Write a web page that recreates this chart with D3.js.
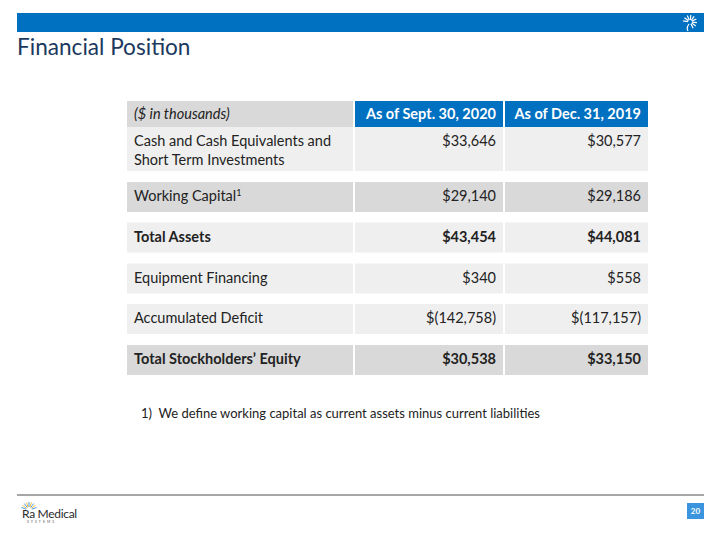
<!DOCTYPE html>
<html>
<head>
<meta charset="utf-8">
<script src="https://cdn.jsdelivr.net/npm/d3@7"></script>
<style>
  body { margin: 0; background: #fff; }
  text { font-family: Lato, "Open Sans", sans-serif; white-space: pre; }
</style>
</head>
<body>
<script>
// table data
const headers = ['($ in thousands)', 'As of Sept. 30, 2020', 'As of Dec. 31, 2019']
const rowLabels = [
  ['Cash and Cash Equivalents and', 'Short Term Investments'],
  ['Working Capital'],
  ['Total Assets'],
  ['Equipment Financing'],
  ['Accumulated Deficit'],
  ['Total Stockholders\u2019 Equity']
]
const sept2020 = [33646, 29140, 43454, 340, -142758, 30538]
const dec2019 = [30577, 29186, 44081, 558, -117157, 33150]
const footnote = '1)  We define working capital as current assets minus current liabilities'

// styling per row (kept apart from the data)
const boldRows = [2, 5]
const darkRows = [1, 5]
const noteRows = [1]

const width = 720
const height = 540
const colors = {
  blue: '#0070C0',
  title: '#1B3A5E',
  dark: '#D9D9D9',
  light: '#EFEFEF',
  text: '#222',
  rule: '#A6A6A6',
  page: '#3A95DE'
}

const svg = d3.select('body').append('svg')
  .attr('width', width)
  .attr('height', height)

// slide frame
svg.append('rect')
  .attr('x', 17).attr('y', 13)
  .attr('width', 687).attr('height', 19)
  .attr('fill', colors.blue)

// little sun mark in the bar
const sun = svg.append('g').attr('transform', 'translate(690, 22)')
d3.range(9).forEach(i => {
  const a = -Math.PI * 0.95 + i * (Math.PI * 1.3 / 8)
  sun.append('line')
    .attr('x1', Math.cos(a) * 2).attr('y1', Math.sin(a) * 2)
    .attr('x2', Math.cos(a) * 7).attr('y2', Math.sin(a) * 7)
    .attr('stroke', '#fff').attr('stroke-width', 1.2)
})
sun.append('path')
  .attr('d', 'M-1,2 Q-4,6 -2,9')
  .attr('stroke', '#fff').attr('fill', 'none').attr('stroke-width', 1.2)

svg.append('text')
  .attr('x', 17).attr('y', 55)
  .attr('font-size', 22.6)
  .attr('fill', colors.title)
  .text('Financial Position')

// table layout
const colEdges = [127, 355, 505, 648]
const gap = 2
const rowTops = [127, 182, 222.5, 263.5, 304, 345]
const rowHeights = [44, 30, 30, 30, 30, 30]
const fontSize = 14.5
const fmt = d3.format(',')
const money = v => v < 0 ? `$(${fmt(-v)})` : `$${fmt(v)}`

const table = svg.append('g')

// header
headers.forEach((h, i) => {
  const x0 = colEdges[i]
  const x1 = colEdges[i + 1] - (i < 2 ? gap : 0)
  table.append('rect')
    .attr('x', x0).attr('y', 101)
    .attr('width', x1 - x0).attr('height', 26)
    .attr('fill', i === 0 ? colors.dark : colors.blue)
  table.append('text')
    .attr('x', i === 0 ? x0 + 7 : x1 - 7)
    .attr('y', 119)
    .attr('text-anchor', i === 0 ? 'start' : 'end')
    .attr('font-size', fontSize)
    .attr('font-style', i === 0 ? 'italic' : 'normal')
    .attr('font-weight', i === 0 ? 'normal' : 'bold')
    .attr('fill', i === 0 ? colors.text : '#fff')
    .text(h)
})

// body rows
const rows = rowLabels.map((label, i) => ({
  label,
  values: [sept2020[i], dec2019[i]],
  top: rowTops[i],
  h: rowHeights[i],
  bold: boldRows.includes(i),
  dark: darkRows.includes(i),
  note: noteRows.includes(i)
}))

const rowG = table.selectAll('g.row')
  .data(rows)
  .enter()
  .append('g')
  .attr('class', 'row')
  .attr('transform', d => `translate(0, ${d.top})`)

rowG.each(function (d) {
  const g = d3.select(this)
  for (let c = 0; c < 3; c++) {
    const x0 = colEdges[c]
    const x1 = colEdges[c + 1] - (c < 2 ? gap : 0)
    g.append('rect')
      .attr('x', x0).attr('y', 0)
      .attr('width', x1 - x0).attr('height', d.h)
      .attr('fill', d.dark ? colors.dark : colors.light)
  }
  const lbl = g.append('text')
    .attr('x', colEdges[0] + 7)
    .attr('y', 19)
    .attr('font-size', fontSize)
    .attr('font-weight', d.bold ? 'bold' : 'normal')
    .attr('fill', colors.text)
  d.label.forEach((line, k) => {
    lbl.append('tspan')
      .attr('x', colEdges[0] + 7)
      .attr('dy', k === 0 ? 0 : 18.5)
      .text(line)
  })
  if (d.note) {
    lbl.append('tspan')
      .attr('font-size', 9)
      .attr('dy', -5)
      .text('1')
  }
  d.values.forEach((v, k) => {
    g.append('text')
      .attr('x', colEdges[k + 2] - (k === 0 ? gap : 0) - 7)
      .attr('y', 19)
      .attr('text-anchor', 'end')
      .attr('font-size', fontSize)
      .attr('font-weight', d.bold ? 'bold' : 'normal')
      .attr('fill', colors.text)
      .text(money(v))
  })
})

// footnote
svg.append('text')
  .attr('x', 141).attr('y', 418)
  .attr('font-size', 13)
  .attr('fill', colors.text)
  .text(footnote)

// footer
svg.append('rect')
  .attr('x', 17).attr('y', 494)
  .attr('width', 687).attr('height', 2)
  .attr('fill', colors.rule)

const logo = svg.append('g').attr('transform', 'translate(29, 510)')
d3.range(9).forEach(i => {
  const a = -Math.PI * 0.9 + i * (Math.PI * 0.8 / 8)
  logo.append('line')
    .attr('x1', Math.cos(a) * 3).attr('y1', Math.sin(a) * 3)
    .attr('x2', Math.cos(a) * 8).attr('y2', Math.sin(a) * 8)
    .attr('stroke', i % 2 ? '#F2B632' : '#3C8FD6').attr('stroke-width', 0.9)
})
svg.append('text')
  .attr('x', 22).attr('y', 518)
  .attr('font-size', 12)
  .attr('fill', '#2B2B2B')
  .attr('letter-spacing', -0.3)
  .text('Ra Medical')
svg.append('text')
  .attr('x', 27).attr('y', 523)
  .attr('font-size', 3.5)
  .attr('letter-spacing', 2)
  .attr('fill', '#555')
  .text('SYSTEMS')

svg.append('rect')
  .attr('x', 687).attr('y', 503)
  .attr('width', 17).attr('height', 16)
  .attr('fill', colors.page)
svg.append('text')
  .attr('x', 695.5).attr('y', 514)
  .attr('text-anchor', 'middle')
  .attr('font-size', 8)
  .attr('font-weight', 'bold')
  .attr('fill', '#fff')
  .text('20')
</script>
</body>
</html>
